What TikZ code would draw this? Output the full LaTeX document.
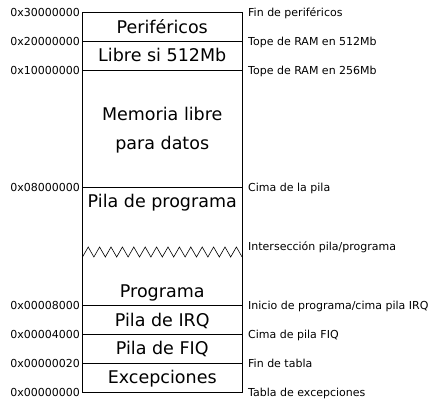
\documentclass[tikz,border=0pt]{standalone}
\usepackage{fontspec}
\setmainfont{DejaVu Sans}

\tikzset{
  addr/.style={anchor=east, inner sep=0pt, font=\fontsize{11}{12}\selectfont, text height=8pt, text depth=0pt},
  note/.style={anchor=west, inner sep=0pt, font=\fontsize{11}{12}\selectfont, text height=8pt, text depth=0pt},
  region/.style={inner sep=0pt, font=\fontsize{17.5}{20}\selectfont, text height=12.8pt, text depth=0pt}
}

\begin{document}
\begin{tikzpicture}[x=1pt,y=-1pt]

\useasboundingbox (0,0) rectangle (442,408);

% Memory map outline
\draw (82.5,12.5) rectangle (242,392);

% Region borders
\draw (82.5,41.5) -- (242,41.5);
\draw (82.5,70) -- (242,70);
\draw (82.5,187) -- (242,187);
\draw (82.5,305.5) -- (242,305.5);
\draw (82.5,334.5) -- (242,334.5);
\draw (82.5,363.5) -- (242,363.5);

% Stack/program meeting point
\draw[line width=0.6pt] (82.5,257) \foreach \i in {1,...,14} { -- ++(5.7,-10) -- ++(5.7,10) };

% Region names
\node[region] (perif) at (162.25,27) {Periféricos};
\node[region] (libre) at (162.25,55.5) {Libre si 512Mb};
\node[region] (memA) at (162.25,114) {Memoria libre};
\node[region] (memB) at (162.25,143) {para datos};
\node[region] (pila) at (162.25,201) {Pila de programa};
\node[region] (prog) at (162.25,291) {Programa};
\node[region] (irq) at (162.25,320) {Pila de IRQ};
\node[region] (fiq) at (162.25,348.5) {Pila de FIQ};
\node[region] (exc) at (162.25,377.5) {Excepciones};

% Addresses
\node[addr] (a30) at (80,12.5) {0x30000000};
\node[addr] (a20) at (80,41.5) {0x20000000};
\node[addr] (a10) at (80,70) {0x10000000};
\node[addr] (a08) at (80,187) {0x08000000};
\node[addr] (a8000) at (80,305.5) {0x00008000};
\node[addr] (a4000) at (80,334.5) {0x00004000};
\node[addr] (a20h) at (80,363.5) {0x00000020};
\node[addr] (a00) at (80,392) {0x00000000};

% Notes
\node[note] (finper) at (248,12.5) {Fin de periféricos};
\node[note] (tope512) at (248,41.5) {Tope de RAM en 512Mb};
\node[note] (tope256) at (248,70) {Tope de RAM en 256Mb};
\node[note] (cima) at (248,187) {Cima de la pila};
\node[note] (inter) at (248,246) {Intersección pila/programa};
\node[note] (inicio) at (248,305.5) {Inicio de programa/cima pila IRQ};
\node[note] (cimafiq) at (248,334.5) {Cima de pila FIQ};
\node[note] (fintab) at (248,363.5) {Fin de tabla};
\node[note] (tabla) at (248,392) {Tabla de excepciones};

\end{tikzpicture}
\end{document}
